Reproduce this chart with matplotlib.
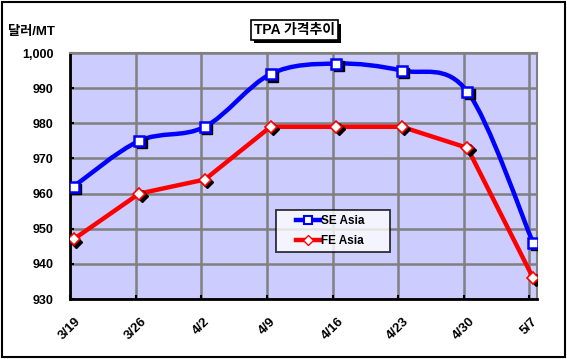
import numpy as np
import matplotlib
matplotlib.use('Agg')
import matplotlib.pyplot as plt
from matplotlib.path import Path
from matplotlib.patches import PathPatch, Rectangle
from matplotlib import transforms
from matplotlib import patheffects
from matplotlib.lines import Line2D
from matplotlib.legend_handler import HandlerLine2D

plt.rcParams['font.family'] = ['Liberation Sans', 'Noto Sans CJK KR']
plt.rcParams['font.weight'] = 'bold'

dates = ['3/19', '3/26', '4/2', '4/9', '4/16', '4/23', '4/30', '5/7']
se_asia = [962, 975, 979, 994, 997, 995, 989, 946]
fe_asia = [947, 960, 964, 979, 979, 979, 973, 936]
yticks = [930, 940, 950, 960, 970, 980, 990, 1000]

blue = '#0000FF'
red = '#FF0000'

fig = plt.figure(figsize=(5.67, 3.59), dpi=100)
ax = fig.add_axes([70 / 567, 1 - 299 / 359, 467 / 567, 246 / 359])
ax.set_facecolor('#CCCCFF')

x = np.arange(len(dates))
sh = transforms.offset_copy(ax.transData, fig=fig, x=2.5, y=-2.5, units='dots')


# excel style smooth line, bezier control points from neighbours
def smooth_path(xs, ys):
    pts = np.column_stack([xs, ys]).astype(float)
    n = len(pts)
    verts = [pts[0]]
    codes = [Path.MOVETO]
    for i in range(n - 1):
        p0 = pts[i - 1] if i > 0 else pts[i]
        p3 = pts[i + 2] if i + 2 < n else pts[i + 1]
        c1 = pts[i] + (pts[i + 1] - p0) / 6.0
        c2 = pts[i + 1] - (p3 - pts[i]) / 6.0
        verts += [c1, c2, pts[i + 1]]
        codes += [Path.CURVE4] * 3
    return Path(verts, codes)


ax.add_patch(PathPatch(smooth_path(x, se_asia), facecolor='none',
                       edgecolor=blue, lw=3.2, zorder=3))
ax.plot(x, fe_asia, color=red, lw=3.2, zorder=3)

# marker shadows
ax.plot(x, se_asia, ls='none', marker='s', ms=7.5, color='black', transform=sh, zorder=3.5)
ax.plot(x, fe_asia, ls='none', marker='D', ms=6, color='black', transform=sh, zorder=3.5)
ax.plot(x, se_asia, ls='none', marker='s', ms=7.5, mfc='white', mec=blue, mew=1.8, zorder=4)
ax.plot(x, fe_asia, ls='none', marker='D', ms=6, mfc='white', mec=red, mew=1.2, zorder=4)

ax.set_xlim(-0.055, 7.06)
ax.set_ylim(930, 1000)
ax.set_xticks(x - 0.055)
ax.set_xticklabels(dates, rotation=45, ha='center', va='top', fontsize=9.5)
ax.set_yticks(yticks)
ax.set_yticklabels(['{:,}'.format(v) for v in yticks], fontsize=9)
ax.tick_params(axis='x', length=3, width=1.5, direction='in', pad=12)
ax.tick_params(axis='y', length=3, width=1.5, direction='in', pad=12)
ax.grid(True, color='#808080', lw=1.8, zorder=1)
ax.set_axisbelow(True)
for s in ['left', 'bottom']:
    ax.spines[s].set_linewidth(2)
    ax.spines[s].set_color('black')
for s in ['top', 'right']:
    ax.spines[s].set_linewidth(1.5)
    ax.spines[s].set_color('#808080')

# legend
handles = [Line2D([], [], color=blue, lw=3.2, marker='s', ms=6, mfc='white', mec=blue, mew=1.5),
           Line2D([], [], color=red, lw=3.2, marker='D', ms=5, mfc='white', mec=red, mew=1)]
leg = ax.legend(handles, ['SE Asia      ', 'FE Asia      '], loc='upper left',
                bbox_to_anchor=(0.441, 0.362), fontsize=8.5, frameon=True,
                fancybox=False, edgecolor='black', handlelength=3.3,
                handletextpad=0.1, borderpad=0.45, labelspacing=0.65,
                borderaxespad=0,
                handler_map={h: HandlerLine2D(xpad=1.25) for h in handles})
leg.get_frame().set_linewidth(1.3)
leg.set_zorder(5)

# title with shadow box
title = fig.text(0.519, 0.916, 'TPA 가격추이', ha='center', va='center', fontsize=10,
                 fontweight='bold',
                 bbox=dict(boxstyle='square,pad=0.2', facecolor='white',
                           edgecolor='black', lw=1.2))
title.get_bbox_patch().set_path_effects(
    [patheffects.SimplePatchShadow(offset=(2.5, -2.5), shadow_rgbFace='black', alpha=1),
     patheffects.Normal()])
fig.text(0.014, 0.912, '달러/MT', ha='left', va='center', fontsize=9.5, fontweight='bold')

# figure border
fig.patches.append(Rectangle((0.004, 0.006), 0.992, 0.988, transform=fig.transFigure,
                             fill=False, edgecolor='black', lw=1.5))

fig.savefig('out.png', dpi=100)
